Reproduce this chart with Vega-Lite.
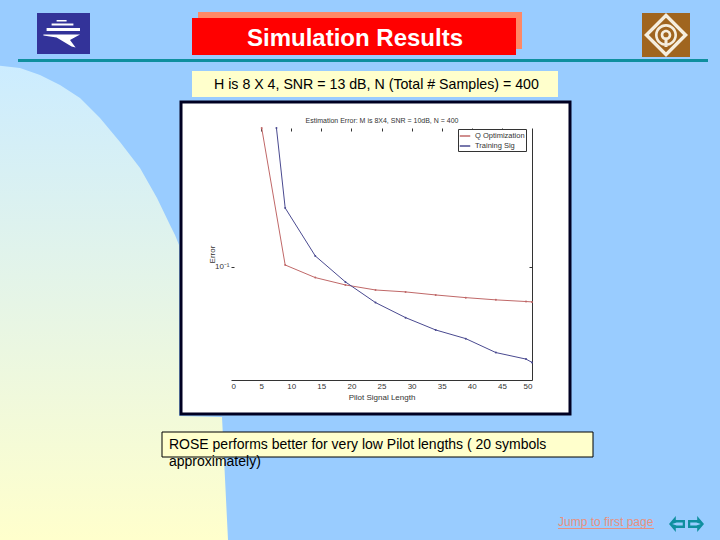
{
"$schema":"https://vega.github.io/schema/vega-lite/v6.json",
"width":389,"height":312,
"autosize":{"type":"none"},
"padding":{"left":181,"top":102,"right":150,"bottom":126},
"background":"#99ccff",
"view":{"fill":"#ffffff","stroke":"#000022","strokeWidth":3},
"config":{"font":"Liberation Sans","axis":{"grid":false},"legend":{"gradientOpacity":1,"symbolOpacity":1}},
"resolve":{"scale":{"x":"independent","y":"independent","color":"independent"},"axis":{"x":"independent","y":"independent"},"legend":{"color":"independent"}},
"layer":[
{"data":{"values":[{"level":65.7,"edge":0},{"level":68,"edge":20},{"level":75,"edge":40},{"level":85,"edge":60},{"level":98,"edge":80},{"level":118,"edge":100},{"level":142,"edge":120},{"level":168,"edge":140},{"level":198,"edge":157},{"level":225,"edge":170},{"level":235,"edge":175},{"level":245,"edge":179},{"level":416,"edge":179},{"level":417,"edge":222},{"level":540,"edge":228}]},
"mark":{"type":"area","orient":"horizontal","fill":{"gradient":"linear","x1":0,"y1":0,"x2":0,"y2":1,"stops":[{"offset":0,"color":"#ccecff"},{"offset":0.5,"color":"#e6f5e6"},{"offset":1,"color":"#ffffcc"}]}},
"encoding":{"x":{"field":"edge","type":"quantitative","axis":null,"scale":{"domain":[0,720],"range":[-181,539],"nice":false}},"y":{"field":"level","type":"quantitative","axis":null,"scale":{"domain":[0,540],"range":[-102,438],"nice":false}}}},
{"data":{"name":"span"},"mark":{"type":"point","size":0,"filled":true},"encoding":{"color":{"field":"v","type":"quantitative","scale":{"domain":[0,1],"range":["#ff8866","#ff8866"]},"legend":{"type":"gradient","direction":"horizontal","orient":"none","legendX":17,"legendY":-90,"gradientLength":324,"gradientThickness":37,"gradientOpacity":1,"values":[],"title":null,"padding":0}}}},
{"data":{"name":"span"},"mark":{"type":"point","size":0,"filled":true},"encoding":{"color":{"field":"v","type":"quantitative","scale":{"domain":[0,1],"range":["#ff0000","#ff0000"]},"legend":{"type":"gradient","direction":"horizontal","orient":"none","legendX":11,"legendY":-84,"gradientLength":324,"gradientThickness":37,"gradientOpacity":1,"values":[],"title":null,"padding":0}}}},
{"data":{"name":"span"},"mark":{"type":"point","size":0,"filled":true},"encoding":{"color":{"field":"v","type":"quantitative","scale":{"domain":[0,1],"range":["#ffffcc","#ffffcc"]},"legend":{"type":"gradient","direction":"horizontal","orient":"none","legendX":11,"legendY":-31,"gradientLength":366,"gradientThickness":26,"gradientOpacity":1,"values":[],"title":null,"padding":0}}}},
{"data":{"name":"span"},"mark":{"type":"point","size":0,"filled":true},"encoding":{"color":{"field":"v","type":"quantitative","scale":{"domain":[0,1],"range":["#0f8f9f","#0f8f9f"]},"legend":{"type":"gradient","direction":"horizontal","orient":"none","legendX":-163,"legendY":-43,"gradientLength":690,"gradientThickness":3,"gradientOpacity":1,"values":[],"title":null,"padding":0}}}},
{"data":{"name":"span"},"mark":{"type":"point","size":0,"filled":true},"encoding":{"color":{"field":"v","type":"quantitative","scale":{"domain":[0,1],"range":["#333399","#333399"]},"legend":{"type":"gradient","direction":"horizontal","orient":"none","legendX":-144,"legendY":-89,"gradientLength":53,"gradientThickness":41,"gradientOpacity":1,"values":[],"title":null,"padding":0}}}},
{"data":{"name":"span"},"mark":{"type":"point","size":0,"filled":true},"encoding":{"color":{"field":"v","type":"quantitative","scale":{"domain":[0,1],"range":["#a0651f","#a0651f"]},"legend":{"type":"gradient","direction":"horizontal","orient":"none","legendX":461,"legendY":-89,"gradientLength":48,"gradientThickness":44,"gradientOpacity":1,"values":[],"title":null,"padding":0}}}},
{"data":{"name":"span"},"mark":{"type":"point","size":0,"filled":true},"encoding":{"color":{"field":"v","type":"quantitative","scale":{"domain":[0,1],"range":["#e89080","#e89080"]},"legend":{"type":"gradient","direction":"horizontal","orient":"none","legendX":377,"legendY":426,"gradientLength":96,"gradientThickness":1,"gradientOpacity":1,"values":[],"title":null,"padding":0}}}},
{"data":{"name":"span"},"mark":{"type":"point","size":0,"filled":true},"encoding":{"color":{"field":"v","type":"quantitative","scale":{"domain":[0,1],"range":["#ffffcc","#ffffcc"]},"legend":{"type":"gradient","direction":"horizontal","orient":"none","zindex":1,"legendX":-19,"legendY":330,"gradientLength":431,"gradientThickness":25,"gradientOpacity":1,"gradientStrokeColor":"#000000","gradientStrokeWidth":1,"values":[],"title":null,"padding":0}}}},
{"data":{"values":[{"box":"a"}]},"mark":{"type":"point","size":0},"encoding":{"color":{"field":"box","type":"nominal","scale":{"range":["#000000"]},"legend":{"orient":"none","legendX":66,"legendY":-75,"values":[],"title":"Simulation Results","titleFontSize":24,"titleFontWeight":"bold","titleColor":"#ffffff","titleLimit":400,"padding":0}}}},
{"data":{"values":[{"box":"b"}]},"mark":{"type":"point","size":0},"encoding":{"color":{"field":"box","type":"nominal","scale":{"range":["#000000"]},"legend":{"orient":"none","legendX":33,"legendY":-24,"values":[],"title":"H is 8 X 4,  SNR = 13 dB, N (Total # Samples) = 400","titleFontSize":14.2,"titleFontWeight":"normal","titleColor":"#000000","titleLimit":400,"padding":0}}}},
{"data":{"values":[{"box":"c"}]},"mark":{"type":"point","size":0},"encoding":{"color":{"field":"box","type":"nominal","scale":{"range":["#000000"]},"legend":{"orient":"none","zindex":1,"legendX":-12,"legendY":336,"values":[],"title":"ROSE performs better for very low Pilot lengths ( 20 symbols","titleFontSize":14,"titleFontWeight":"normal","titleColor":"#000000","titleLimit":500,"padding":0}}}},
{"data":{"values":[{"box":"d"}]},"mark":{"type":"point","size":0},"encoding":{"color":{"field":"box","type":"nominal","scale":{"range":["#000000"]},"legend":{"orient":"none","zindex":1,"legendX":-12,"legendY":353,"values":[],"title":"approximately)","titleFontSize":14,"titleFontWeight":"normal","titleColor":"#000000","padding":0}}}},
{"data":{"values":[{"box":"e"}]},"mark":{"type":"point","size":0},"encoding":{"color":{"field":"box","type":"nominal","scale":{"range":["#000000"]},"legend":{"orient":"none","legendX":377,"legendY":415,"values":[],"title":"Jump to first page","titleFontSize":12,"titleFontWeight":"normal","titleColor":"#e89080","padding":0}}}},
{"data":{"values":[{"box":"f"}]},"mark":{"type":"point","size":0,"filled":true},"encoding":{"color":{"field":"box","type":"nominal","scale":{"range":["#ffffff"]},"legend":{"orient":"none","legendX":-137,"legendY":-88,"symbolType":"M-0.37,-0.7 L0.13,-0.7 L0.13,-0.62 L-0.37,-0.62 Z M-0.62,-0.53 L0.47,-0.53 L0.47,-0.42 L-0.62,-0.42 Z M-0.87,-0.3 L0.8,-0.3 L0.8,-0.15 L-0.87,-0.15 Z M-1.03,0.02 L0.8,0.02 L0.3,0.3 L0.58,0.68 L0.38,0.63 L-0.37,0.17 L-1.03,0.08 Z","symbolSize":1600,"symbolOpacity":1,"symbolStrokeWidth":0,"title":null,"labelExpr":"''","labelOffset":0,"padding":0}}}},
{"data":{"values":[{"box":"g"}]},"mark":{"type":"point","size":0,"filled":true},"encoding":{"color":{"field":"box","type":"nominal","scale":{"range":["#f5eede"]},"legend":{"orient":"none","legendX":463,"legendY":-89,"symbolType":"M0,-1 L1,0 L0,1 L-1,0 Z M0,-0.78 L-0.78,0 L0,0.78 L0.78,0 Z M-0.5,0 A0.5,0.5 0 1,1 0.5,0 A0.5,0.5 0 1,1 -0.5,0 Z M-0.38,0 A0.38,0.38 0 1,0 0.38,0 A0.38,0.38 0 1,0 -0.38,0 Z M-0.24,0 A0.24,0.24 0 1,1 0.24,0 A0.24,0.24 0 1,1 -0.24,0 Z M-0.12,0 A0.12,0.12 0 1,0 0.12,0 A0.12,0.12 0 1,0 -0.12,0 Z M-0.07,0.1 L0.07,0.1 L0.07,0.55 L-0.07,0.55 Z","symbolSize":1936,"symbolOpacity":1,"symbolStrokeWidth":0,"title":null,"labelExpr":"''","labelOffset":0,"padding":0}}}},
{"data":{"values":[{"box":"h"}]},"mark":{"type":"point","size":0,"filled":true},"encoding":{"color":{"field":"box","type":"nominal","scale":{"range":["#0f8f9f"]},"legend":{"orient":"none","legendX":488,"legendY":414,"symbolType":"M-1,0 L-0.15,-1 L-0.15,-0.5 L1,-0.5 L1,0.5 L-0.15,0.5 L-0.15,1 Z M-0.6,0 L-0.05,0.2 L0.72,0.2 L0.72,-0.2 L-0.05,-0.2 Z","symbolSize":256,"symbolOpacity":1,"symbolStrokeWidth":0,"title":null,"labelExpr":"''","labelOffset":0,"padding":0}}}},
{"data":{"values":[{"box":"i"}]},"mark":{"type":"point","size":0,"filled":true},"encoding":{"color":{"field":"box","type":"nominal","scale":{"range":["#0f8f9f"]},"legend":{"orient":"none","legendX":507,"legendY":414,"symbolType":"M1,0 L0.15,-1 L0.15,-0.5 L-1,-0.5 L-1,0.5 L0.15,0.5 L0.15,1 Z M0.6,0 L0.05,0.2 L-0.72,0.2 L-0.72,-0.2 L0.05,-0.2 Z","symbolSize":256,"symbolOpacity":1,"symbolStrokeWidth":0,"title":null,"labelExpr":"''","labelOffset":0,"padding":0}}}},
{"data":{"name":"err"},"mark":{"type":"line","opacity":0},"encoding":{"x":{"field":"pilot","type":"quantitative","scale":{"domain":[0,50],"range":[50,351],"nice":false},"axis":{"orient":"top","offset":-26,"values":[5,10,15,20,25,30,35,40,45],"labels":false,"domain":false,"tickSize":-3,"tickColor":"#333333","title":"Estimation Error: M is 8X4, SNR = 10dB, N = 400","titleFontSize":7,"titleFontWeight":"normal","titleColor":"#333333","titlePadding":4}},"y":{"field":"error","type":"quantitative","scale":{"type":"log","domain":[0.027,0.5],"range":[278,26],"nice":false},"axis":{"orient":"right","offset":-38,"values":[0.1],"labels":false,"tickSize":-3,"domainColor":"#333333","tickColor":"#333333","title":null}},"detail":{"field":"series"}}},
{"data":{"name":"err"},"mark":{"type":"line","strokeWidth":1,"point":{"size":4,"filled":true}},"encoding":{"x":{"field":"pilot","type":"quantitative","scale":{"domain":[0,50],"range":[50,351],"nice":false},"axis":{"orient":"bottom","offset":-34,"values":[0,5,10,15,20,25,30,35,40,45,50],"ticks":false,"domainColor":"#333333","labelFontSize":8,"labelColor":"#333333","labelPadding":2,"title":"Pilot Signal Length","titleFontSize":8,"titleFontWeight":"normal","titleColor":"#333333","titlePadding":3}},"y":{"field":"error","type":"quantitative","scale":{"type":"log","domain":[0.027,0.5],"range":[278,26],"nice":false},"axis":{"orient":"left","offset":-50,"values":[0.1],"domain":false,"tickSize":-3,"tickColor":"#333333","labelExpr":"'10⁻¹'","labelFontSize":8,"labelColor":"#333333","labelPadding":5,"title":"Error","titleFontSize":8,"titleFontWeight":"normal","titleColor":"#333333","titlePadding":-2}},"color":{"field":"series","type":"nominal","scale":{"domain":["Q Optimization","Training Sig"],"range":["#c06868","#4a4a90"]},"legend":{"orient":"none","legendX":277,"legendY":27,"title":null,"fillColor":"#ffffff","strokeColor":"#333333","labelFontSize":7.5,"labelColor":"#333333","symbolType":"stroke","symbolSize":110,"rowPadding":-3,"padding":1}}}}
],
"datasets":{"span":[{"v":0},{"v":1}],"err":[
{"series":"Q Optimization","pilot":5.1,"error":0.5},{"series":"Q Optimization","pilot":9,"error":0.1023},{"series":"Q Optimization","pilot":14,"error":0.0884},{"series":"Q Optimization","pilot":19,"error":0.0812},{"series":"Q Optimization","pilot":24,"error":0.0766},{"series":"Q Optimization","pilot":29,"error":0.0749},{"series":"Q Optimization","pilot":34,"error":0.0723},{"series":"Q Optimization","pilot":39,"error":0.0701},{"series":"Q Optimization","pilot":44,"error":0.0683},{"series":"Q Optimization","pilot":49,"error":0.067},{"series":"Q Optimization","pilot":50,"error":0.0667},
{"series":"Training Sig","pilot":7.55,"error":0.5},{"series":"Training Sig","pilot":9,"error":0.198},{"series":"Training Sig","pilot":14,"error":0.1136},{"series":"Training Sig","pilot":19,"error":0.0841},{"series":"Training Sig","pilot":24,"error":0.0662},{"series":"Training Sig","pilot":29,"error":0.0556},{"series":"Training Sig","pilot":34,"error":0.0482},{"series":"Training Sig","pilot":39,"error":0.0436},{"series":"Training Sig","pilot":44,"error":0.0371},{"series":"Training Sig","pilot":49,"error":0.0344},{"series":"Training Sig","pilot":50,"error":0.0331}
]}
}
